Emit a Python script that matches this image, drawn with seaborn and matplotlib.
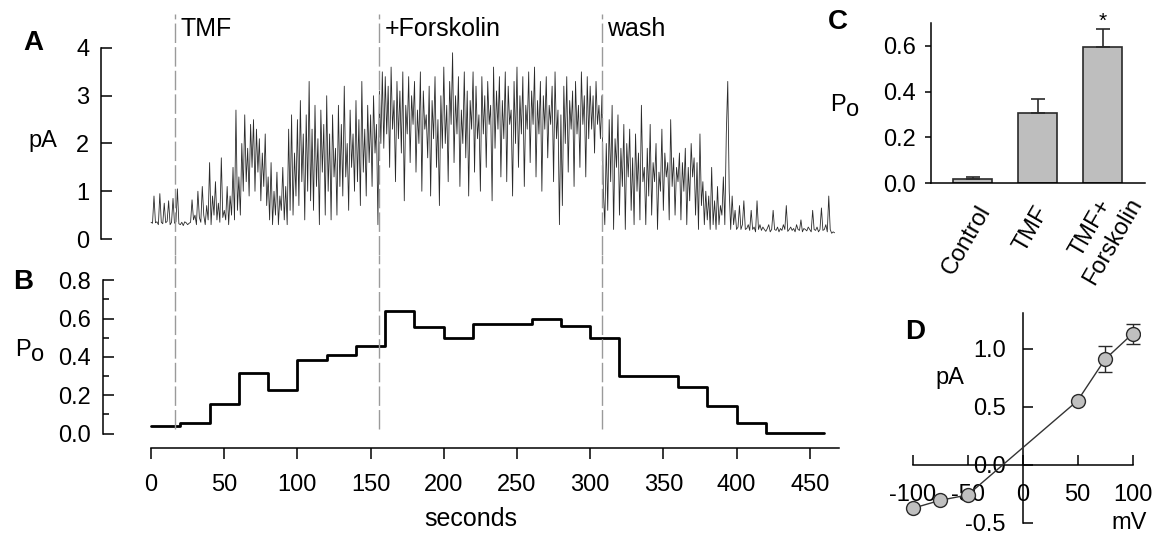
import numpy as np
import matplotlib
matplotlib.use("Agg")
import matplotlib.pyplot as plt
import seaborn as sns

# panel A: single-channel current trace, one value per second (pA)
trace_pa = [
    0.35, 0.33, 0.9, 0.34, 0.36, 0.3, 0.95, 0.35, 0.32, 0.75,
    0.34, 0.37, 0.8, 0.3, 0.35, 0.85, 0.33, 0.36, 1.05, 0.32,
    0.3, 0.35, 0.28, 0.36, 0.34, 0.3, 0.33, 0.35, 0.82, 0.4,
    0.5, 0.3, 1.0, 0.45, 0.35, 1.1, 0.5, 0.3, 0.7, 0.4,
    1.6, 0.3, 0.9, 0.5, 1.2, 0.4, 0.75, 0.35, 1.7, 0.45,
    0.6, 0.4, 1.1, 0.3, 0.9, 0.5, 1.5, 0.4, 2.7, 0.6,
    1.3, 0.5, 2.0, 1.0, 2.6, 1.2, 1.9, 0.9, 2.4, 1.5,
    2.5, 1.0, 2.3, 1.4, 2.1, 0.8, 1.8, 1.1, 2.2, 0.7,
    1.3, 0.4, 1.6, 0.3, 1.0, 0.5, 1.4, 0.3, 0.9, 0.6,
    1.5, 0.4, 1.1, 0.3, 2.3, 0.6, 2.6, 0.5, 1.8, 0.9,
    2.5, 0.7, 2.9, 1.2, 2.2, 0.4, 2.6, 1.0, 3.3, 0.8,
    2.3, 0.6, 2.8, 1.1, 2.1, 0.3, 2.7, 1.4, 2.4, 0.5,
    3.0, 1.0, 2.2, 0.4, 2.6, 1.3, 1.9, 0.5, 2.8, 1.1,
    2.4, 0.9, 3.2, 1.3, 2.0, 0.6, 2.7, 1.5, 2.2, 1.0,
    2.9, 1.2, 2.5, 0.7, 3.3, 1.4, 2.3, 0.9, 2.8, 1.6,
    2.6, 1.1, 3.0, 1.8, 2.4, 0.3, 3.1, 2.0, 3.5, 1.9,
    3.4, 2.2, 3.2, 1.5, 3.6, 2.3, 2.9, 1.2, 3.3, 2.1,
    3.1, 1.8, 3.5, 0.8, 2.8, 2.2, 3.4, 1.6, 3.0, 2.4,
    3.3, 1.4, 2.7, 2.0, 3.5, 1.0, 3.1, 2.3, 2.6, 1.7,
    3.2, 0.9, 2.9, 2.1, 3.4, 1.5, 2.5, 0.7, 3.0, 1.9,
    3.6, 2.0, 2.8, 1.2, 3.3, 2.4, 3.9, 1.6, 3.0, 2.2,
    3.4, 1.1, 2.7, 2.0, 3.5, 1.7, 3.1, 0.9, 2.9, 2.3,
    3.5, 1.4, 3.2, 2.1, 2.6, 1.0, 3.4, 2.2, 3.0, 1.5,
    3.3, 2.4, 2.8, 0.8, 3.6, 1.9, 3.1, 2.3, 3.4, 1.3,
    2.9, 2.1, 3.5, 1.2, 3.2, 2.4, 2.7, 0.9, 3.3, 2.0,
    3.6, 1.5, 3.0, 2.2, 3.4, 1.1, 2.8, 2.3, 3.5, 1.6,
    3.1, 2.4, 3.6, 1.3, 2.9, 2.2, 3.3, 1.0, 3.0, 2.3,
    3.4, 1.7, 2.8, 2.4, 3.2, 1.2, 3.5, 2.1, 2.7, 0.3,
    2.6, 0.7, 3.2, 2.0, 3.4, 1.4, 2.9, 2.3, 3.1, 1.1,
    3.3, 2.2, 2.8, 1.5, 3.5, 2.4, 3.0, 1.3, 3.4, 2.1,
    3.2, 2.3, 3.0, 1.8, 3.3, 2.4, 2.8, 2.1, 3.0, 1.0,
    0.3, 2.0, 0.6, 2.5, 1.2, 2.8, 0.2, 2.1, 1.5, 2.6,
    0.5, 1.9, 1.1, 2.4, 0.2, 2.0, 1.3, 2.3, 0.6, 1.7,
    0.3, 2.2, 1.0, 1.8, 0.4, 2.8, 1.2, 1.5, 0.3, 1.9,
    0.9, 2.4, 0.5, 1.6, 1.2, 2.0, 0.2, 1.4, 1.0, 2.3,
    0.6, 1.8, 1.3, 1.6, 0.4, 2.5, 1.1, 1.7, 0.5, 1.5,
    1.2, 1.8, 0.4, 1.6, 1.0, 1.9, 0.3, 1.5, 0.8, 2.0,
    1.3, 1.7, 0.5, 1.6, 0.2, 2.2, 0.7, 1.2, 0.3, 1.0,
    0.4, 0.9, 0.2, 1.5, 0.3, 0.8, 0.2, 1.1, 0.3, 0.7,
    0.5, 1.3, 0.3, 2.2, 3.3, 1.0, 0.2, 0.9, 0.3, 0.6,
    0.2, 0.25, 0.7, 0.2, 0.3, 0.8, 0.2, 0.22, 0.3, 0.18,
    0.6, 0.2, 0.25, 0.15, 0.8, 0.2, 0.3, 0.18, 0.25, 0.2,
    0.16, 0.22, 0.3, 0.15, 0.2, 0.6, 0.2, 0.18, 0.25, 0.15,
    0.22, 0.18, 0.3, 0.2, 0.7, 0.16, 0.2, 0.25, 0.18, 0.22,
    0.15, 0.3, 0.2, 0.18, 0.4, 0.15, 0.22, 0.2, 0.17, 0.25,
    0.2, 0.15, 0.6, 0.2, 0.18, 0.25, 0.15, 0.2, 0.65, 0.18,
    0.2, 0.3, 0.15, 0.9, 0.2, 0.12, 0.15, 0.13,
]

# panel B: open probability in 20 s bins
bin_start_s = [0, 20, 40, 60, 80, 100, 120, 140, 160, 180, 200, 220,
               240, 260, 280, 300, 320, 340, 360, 380, 400, 420, 440, 460]
po_bins = [0.04, 0.057, 0.153, 0.318, 0.228, 0.384, 0.409, 0.459, 0.642, 0.557, 0.501, 0.572,
           0.572, 0.598, 0.563, 0.498, 0.301, 0.299, 0.245, 0.144, 0.056, 0.005, 0.004]

# solution changes (s)
event_times = [16.4, 156.0, 308.0]
event_labels = ["TMF", "+Forskolin", "wash"]

# panel C: mean Po
conditions = ["Control", "TMF", "TMF+\nForskolin"]
po_mean = [0.018, 0.306, 0.592]
po_sem = [0.011, 0.061, 0.080]

# panel D: I-V relation
voltage_mv = [-100, -75, -50, 50, 75, 100]
current_pa = [-0.376, -0.307, -0.261, 0.552, 0.909, 1.129]
current_err = [0.0, 0.0, 0.0, 0.0, 0.113, 0.085]

W, H = 1162, 540
FS = 17
sns.set_style("ticks", rc={"text.color": "black", "axes.labelcolor": "black",
                           "xtick.color": "black", "ytick.color": "black",
                           "axes.edgecolor": "black"})
plt.rcParams["font.family"] = ["Liberation Sans", "DejaVu Sans"]
plt.rcParams["axes.unicode_minus"] = False
plt.rcParams["axes.linewidth"] = 1.1
plt.rcParams["xtick.major.width"] = 1.1
plt.rcParams["ytick.major.width"] = 1.1
plt.rcParams["ytick.minor.width"] = 1.1

fig = plt.figure(figsize=(W / 100, H / 100), dpi=100)


def px_axes(left, top, right, bottom):
    return fig.add_axes([left / W, 1 - bottom / H, (right - left) / W, (bottom - top) / H])


def po_label(x, y):
    # "P" with a lowered full-size "o", placed in figure pixels (baseline)
    fig.text(x / W, 1 - y / H, "P", fontsize=FS, va="baseline", ha="left")
    fig.text((x + 16) / W, 1 - (y + 5) / H, "o", fontsize=FS, va="baseline", ha="left")


DASH = (0, (14, 3))
DASH_COLOR = "#9a9a9a"

# ---- A ----
ax_a = px_axes(101, 5, 839, 255)
t = np.arange(len(trace_pa))
sns.lineplot(x=t, y=trace_pa, ax=ax_a, color="#2a2a2a", linewidth=0.6)
ax_a.set_xlim(-34.2, 470)
ax_a.set_ylim(-0.335, 4.90)
ax_a.spines[["top", "right", "bottom"]].set_visible(False)
ax_a.spines["left"].set_bounds(0, 4)
ax_a.set_xticks([])
ax_a.set_yticks([0, 1, 2, 3, 4])
ax_a.tick_params(axis="y", direction="in", length=8, pad=8.5, labelsize=FS)
ax_a.set_ylabel("")
ax_a.text(-34.2 - 40, 2.05, "pA", fontsize=FS, ha="center", va="center")
ax_a.vlines(event_times, -0.335, 4.72, colors=DASH_COLOR, linestyles=DASH, linewidth=1)
for x, lab in zip(event_times, event_labels):
    ax_a.text(x + 3.5, 4.25, lab, fontsize=18, va="baseline", ha="left")

# ---- B ----
ax_b = px_axes(103, 255, 839, 448)
step_y = po_bins + [po_bins[-1]]
sns.lineplot(x=bin_start_s, y=step_y, ax=ax_b, color="black", linewidth=2.0,
             drawstyle="steps-post", estimator=None)
ax_b.set_xlim(-32.8, 470)
ax_b.set_ylim(-0.075, 0.932)
ax_b.spines[["top", "right"]].set_visible(False)
ax_b.spines["left"].set_bounds(0, 0.8)
ax_b.spines["bottom"].set_bounds(0, 470)
ax_b.set_yticks([0.0, 0.2, 0.4, 0.6, 0.8])
ax_b.set_yticklabels(["0.0", "0.2", "0.4", "0.6", "0.8"])
ax_b.set_yticks([0.1, 0.3, 0.5, 0.7], minor=True)
ax_b.tick_params(axis="y", which="major", direction="in", length=8, pad=8.5, labelsize=FS)
ax_b.tick_params(axis="y", which="minor", direction="in", length=4.3)
ax_b.set_xticks(range(0, 451, 50))
ax_b.tick_params(axis="x", direction="out", length=8, pad=11, labelsize=FS)
ax_b.set_xlabel("seconds", fontsize=18, labelpad=8)
ax_b.set_ylabel("")
po_label(15, 356)
ax_b.vlines(event_times, 0.025, 0.932, colors=DASH_COLOR, linestyles=DASH, linewidth=1)

# ---- C ----
ax_c = px_axes(930.7, 22.7, 1145, 183.3)
sns.barplot(x=conditions, y=po_mean, ax=ax_c, color="#bebebe", saturation=1,
            edgecolor="#2a2a2a", linewidth=1.2, width=0.6)
ax_c.errorbar(range(len(conditions)), po_mean, yerr=[np.zeros(3), po_sem], fmt="none",
              ecolor="#2a2a2a", elinewidth=1.2, capsize=5, capthick=1.2)
ax_c.set_xlim(-0.65, 2.65)
ax_c.set_ylim(0, 0.70)
ax_c.spines[["top", "right"]].set_visible(False)
ax_c.set_yticks([0.0, 0.2, 0.4, 0.6])
ax_c.set_yticklabels(["0.0", "0.2", "0.4", "0.6"])
ax_c.tick_params(axis="y", direction="out", length=4.5, pad=6, labelsize=FS)
ax_c.set_xticks(range(len(conditions)))
ax_c.set_xticklabels([])
ax_c.tick_params(axis="x", length=0)
# rotated category labels, offsets in pixels (right, down) from each bar's base
label_offsets = [(3, 18), (-4, 19), (3, -2)]
for i, (name, (dx, dy)) in enumerate(zip(conditions, label_offsets)):
    ax_c.annotate(name, xy=(i, 0), xytext=(dx / 1.389, -dy / 1.389), textcoords="offset points",
                  rotation=60, rotation_mode="anchor", ha="right", va="top",
                  multialignment="center", fontsize=FS, annotation_clip=False)
ax_c.set_ylabel("")
ax_c.set_xlabel("")
po_label(830, 111)
ax_c.text(2, po_mean[2] + po_sem[2] + 0.035, "*", ha="center", va="center", fontsize=15, clip_on=False)

# ---- D ----
ax_d = px_axes(905, 305, 1140, 525)
sns.lineplot(x=voltage_mv, y=current_pa, ax=ax_d, color="#333333", linewidth=1.0,
             marker="o", markersize=10, markerfacecolor="#c0c0c0", markeredgecolor="#2a2a2a",
             markeredgewidth=1.0, zorder=3)
ax_d.errorbar(voltage_mv, current_pa, yerr=current_err, fmt="none", ecolor="#2a2a2a",
              elinewidth=1.0, capsize=5, zorder=2)
ax_d.set_xlim(-107.1, 106.8)
ax_d.set_ylim(-0.52, 1.377)
ax_d.spines[["top", "right"]].set_visible(False)
ax_d.spines["left"].set_position(("data", 0))
ax_d.spines["bottom"].set_position(("data", 0))
ax_d.spines["left"].set_bounds(-0.5, 1.31)
ax_d.spines["bottom"].set_bounds(-100, 100)
ax_d.set_xticks([-100, -50, 0, 50, 100])
ax_d.set_yticks([-0.5, 0.0, 0.5, 1.0])
ax_d.set_yticklabels(["-0.5", "0.0", "0.5", "1.0"])
ax_d.tick_params(axis="both", direction="in", length=7, labelsize=FS)
ax_d.tick_params(axis="x", pad=14)
ax_d.tick_params(axis="y", pad=12)
ax_d.text(-66, 0.75, "pA", fontsize=FS, ha="center", va="center")
ax_d.text(97, -0.5, "mV", fontsize=FS, ha="center", va="center")

# panel letters
for letter, (x, y) in {"A": (33, 43), "B": (23, 282), "C": (838, 22), "D": (915, 332)}.items():
    fig.text(x / W, 1 - y / H, letter, fontsize=20, fontweight="bold", ha="center", va="center")

fig.savefig("out.png", dpi=100)
